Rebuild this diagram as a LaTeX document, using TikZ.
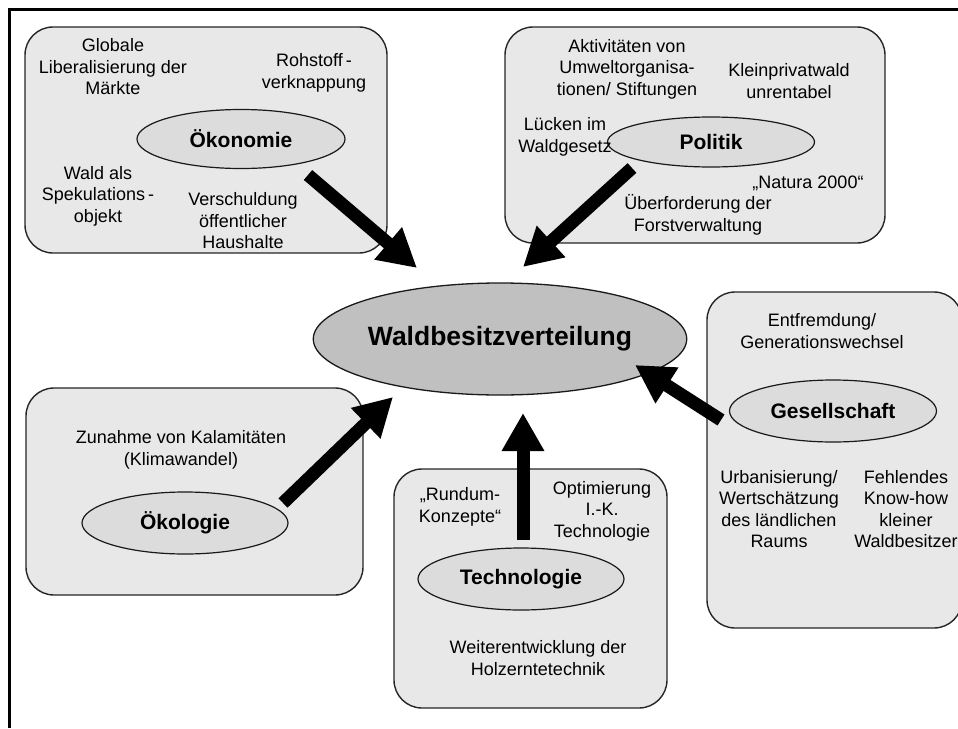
\documentclass[tikz,border=0pt]{standalone}
\usepackage{fontspec}
\setmainfont{Liberation Sans}
\usetikzlibrary{shapes.geometric,arrows.meta}
\definecolor{boxfill}{HTML}{E8E8E8}
\definecolor{ellfill}{HTML}{DCDCDC}
\definecolor{mainfill}{HTML}{C0C0C0}
\begin{document}
\begin{tikzpicture}[x=1pt,y=-1pt,
  areabox/.style={draw=black!85,line width=1.4pt,fill=boxfill,rounded corners=28pt},
  subell/.style={ellipse,draw=black!90,line width=1.2pt,fill=ellfill,inner sep=0pt,
    font=\fontsize{21}{24}\selectfont\bfseries},
  mainell/.style={ellipse,draw=black!90,line width=1.3pt,fill=mainfill,inner sep=0pt,
    font=\fontsize{26.5}{30}\selectfont\bfseries},
  txt/.style={align=center,inner sep=0pt,font=\fontsize{18}{21.5}\selectfont},
  bigarrow/.style={line width=13pt,-{Triangle[width=40pt,length=38pt]}}]
\clip (0,0) rectangle (958,728);
\fill[white] (0,0) rectangle (958,728);
% frame
\draw[line width=3pt] (9.7,728) -- (9.7,9.5) -- (960,9.5);

% Oekonomie
\draw[areabox] (25,27) rectangle (387,253);
\node[subell,minimum width=208pt,minimum height=59pt] (oek) at (241,139) {Ökonomie};
\node[txt] (t1) at (113,67) {Globale\\Liberalisierung der\\Märkte};
\node[txt] (t2) at (314,73) {Rohstoff\,-\\verknappung};
\node[txt] (t3) at (98,196) {Wald als\\Spekulations\,-\\objekt};
\node[txt] (t4) at (243,221) {Verschuldung\\öffentlicher\\Haushalte};

% Politik
\draw[areabox] (505,27) rectangle (885,243);
\node[subell,minimum width=207pt,minimum height=50pt] (pol) at (711,142) {Politik};
\node[txt] (p1) at (627,69) {Aktivitäten von\\Umweltorganisa-\\tionen/ Stiftungen};
\node[txt] (p2) at (789,81) {Kleinprivatwald\\unrentabel};
\node[txt] (p3) at (565,137) {Lücken im\\Waldgesetz};
\node[txt] (p4) at (808,183) {„Natura 2000“};
\node[txt] (p5) at (698,215) {Überforderung der\\Forstverwaltung};

% Oekologie
\draw[areabox] (26,388) rectangle (363,595);
\node[subell,minimum width=206pt,minimum height=62pt] (okol) at (185,523) {Ökologie};
\node[txt] (e1) at (181,450) {Zunahme von Kalamitäten\\(Klimawandel)};

% Technologie
\draw[areabox] (394,469) rectangle (667,708);
\node[subell,minimum width=206pt,minimum height=62pt] (tech) at (521,579) {Technologie};
\node[txt] (k1) at (460,507) {„Rundum-\\Konzepte“};
\node[txt] (k2) at (602,511) {Optimierung\\I.-K.\\Technologie};
\node[txt] (k3) at (538,658) {Weiterentwicklung der\\Holzerntetechnik};

% Gesellschaft
\draw[areabox] (707,292) rectangle (962,628);
\node[subell,minimum width=207pt,minimum height=62pt] (ges) at (833,411) {Gesellschaft};
\node[txt] (g1) at (822,331) {Entfremdung/\\Generationswechsel};
\node[txt] (g2) at (779,509) {Urbanisierung/\\Wertschätzung\\des ländlichen\\Raums};
\node[txt] (g3) at (906,509) {Fehlendes\\Know-how\\kleiner\\Waldbesitzer};

% centre
\node[mainell,minimum width=295pt,minimum height=112pt] (wald) at (500,339) {Waldbesitzverteilung};

% arrow ends
\coordinate (aoS) at (308,175); \coordinate (aoE) at (417,268);
\coordinate (apS) at (632,168); \coordinate (apE) at (523,267);
\coordinate (aeS) at (283,503); \coordinate (aeE) at (393,397);
\coordinate (atS) at (523,540); \coordinate (atE) at (523,413);
\coordinate (agS) at (721,420); \coordinate (agE) at (635,365);
\draw[bigarrow] (aoS) -- (aoE);
\draw[bigarrow] (apS) -- (apE);
\draw[bigarrow] (aeS) -- (aeE);
\draw[bigarrow] (atS) -- (atE);
\draw[bigarrow] (agS) -- (agE);
\end{tikzpicture}
\end{document}
